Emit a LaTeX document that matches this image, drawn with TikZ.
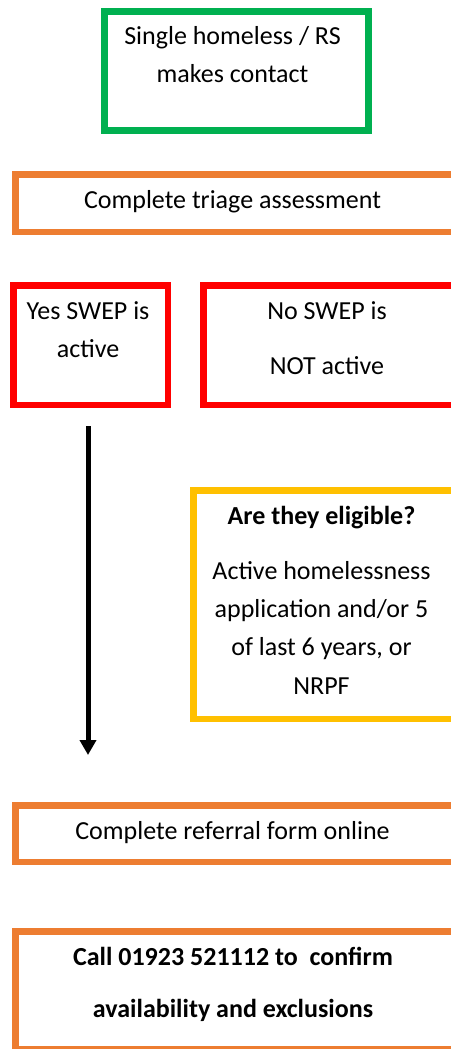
\documentclass[tikz,border=0pt]{standalone}
\usepackage{fontspec}
\setmainfont{Carlito}
\usetikzlibrary{arrows.meta}
\definecolor{cgreen}{HTML}{00B050}
\definecolor{corange}{HTML}{ED7D31}
\definecolor{cred}{HTML}{FF0000}
\definecolor{cyellow}{HTML}{FFC000}
\tikzset{
  frame/.style={draw=#1, line width=6.5pt, rectangle, inner sep=0pt, anchor=north west},
  lbl/.style={inner sep=0pt, font=\fontsize{26}{30}\selectfont, anchor=base},
  blbl/.style={lbl, font=\fontsize{26}{30}\selectfont\bfseries},
  flow/.style={line width=5pt, -{Triangle[width=16pt,length=15pt]}}
}
\begin{document}
\begin{tikzpicture}[x=1pt,y=-1pt]
\useasboundingbox (0,0) rectangle (450,1049);
% boxes (centre-line coordinates)
\node[frame=cgreen, line width=7pt, minimum width=264pt, minimum height=118pt] (start) at (100.5,8.5) {};
\node[frame=corange, minimum width=450pt, minimum height=57.5pt] (triage) at (12.25,171.25) {};
\node[frame=cred, minimum width=154.5pt, minimum height=119.5pt] (yes) at (10.25,282.25) {};
\node[frame=cred, minimum width=260pt, minimum height=119.5pt] (no) at (200.25,282.25) {};
\node[frame=cyellow, minimum width=270pt, minimum height=228.5pt] (elig) at (190.25,487.25) {};
\node[frame=corange, minimum width=450pt, minimum height=56.5pt] (refer) at (12.25,802.25) {};
\node[frame=corange, minimum width=450pt, minimum height=117.5pt] (call) at (12.25,928.25) {};
% texts
\node[lbl] (t1) at (232.5,45) {Single homeless / RS};
\node[lbl] (t2) at (232.5,82.7) {makes contact};
\node[lbl] (t3) at (232.5,208.3) {Complete triage assessment};
\node[lbl] (t4) at (88,319.3) {Yes SWEP is};
\node[lbl] (t5) at (88,357.3) {active};
\node[lbl] (t6) at (327,319.3) {No SWEP is};
\node[lbl] (t7) at (327,374) {NOT active};
\node[blbl] (t8) at (321.5,524) {Are they eligible?};
\node[lbl] (t9) at (321.5,579) {Active homelessness};
\node[lbl] (t10) at (321.5,617.7) {application and/or 5};
\node[lbl] (t11) at (321.5,655.7) {of last 6 years, or};
\node[lbl] (t12) at (321.5,694) {NRPF};
\node[lbl] (t13) at (232.5,839.3) {Complete referral form online};
\node[blbl] (t14) at (233,965) {Call 01923 521112 to\ \ confirm};
\node[blbl] (t15) at (233,1017.3) {availability and exclusions};
% arrow
\coordinate (a0) at (88,426);
\coordinate (a1) at (88,755);
\draw[flow] (a0) -- (a1);
\end{tikzpicture}
\end{document}
